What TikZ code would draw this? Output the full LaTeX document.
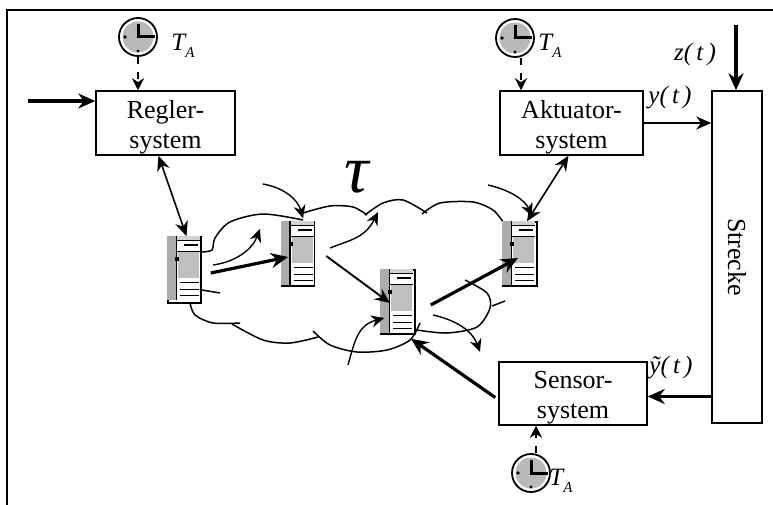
\documentclass[tikz,border=0pt]{standalone}
\usepackage{fontspec}
\setmainfont{Liberation Serif}
\usetikzlibrary{arrows.meta}

\tikzset{
  block/.style={draw, line width=1.5pt, fill=white, inner sep=0pt, align=center, font=\fontsize{26}{30}\selectfont},
  clock/.style={draw, circle, line width=1.8pt, fill=white, inner sep=0pt, minimum size=38pt},
  server/.style={draw, line width=1.5pt, fill=white, inner sep=0pt},
  label/.style={inner sep=0pt, font=\fontsize{25}{25}\selectfont\itshape},
  thinflow/.style={line width=1.4pt, -{Stealth[length=13pt,width=12pt]}},
  midflow/.style={line width=1.9pt, -{Stealth[length=15pt,width=13pt]}},
  thickflow/.style={line width=3.2pt, -{Stealth[length=17pt,width=15pt]}},
  bothflow/.style={line width=1.6pt, {Stealth[length=15pt,width=13pt]}-{Stealth[length=15pt,width=13pt]}},
  tick/.style={line width=2pt, dash pattern=on 7pt off 8pt, -{Stealth[length=12pt,width=12pt]}},
  cloudline/.style={line width=1.5pt}
}

\newcommand{\boxtext}[2]{\rule{0pt}{26pt}#1\\#2}
\newcommand{\subA}{\raisebox{-7pt}{\fontsize{15}{15}\selectfont A}}

% clock face on a named node
\newcommand{\clockface}[1]{
  \fill[gray!55] (#1) circle (15.5pt);
  \draw[line width=3pt] (#1) ++(0,-13) -- ++(0,13) -- ++(17,0);
  \fill ([xshift=-13]#1) circle (1.8pt);
  \fill ([yshift=-14]#1) circle (1.6pt);
}

% tower drawn inside a named node
\newcommand{\serverface}[1]{
  \begin{scope}[shift={(#1.north west)}]
    \fill[gray!65] (0,0) rectangle (9,64);
    \fill[gray!35] (9,0) rectangle (33,4);
    \fill[gray!50] (11,16) rectangle (32,42);
    \draw[line width=1.5pt] (9,0) -- (9,64);
    \draw[line width=1.2pt] (9,4) -- (33,4);
    \draw[line width=1.2pt] (9,15) -- (33,15);
    \draw[line width=1.6pt] (17,9) -- (31,9);
    \draw[line width=1.5pt] (13,46) -- (32,46);
    \draw[line width=1.5pt] (13,53) -- (32,53);
    \draw[line width=1.5pt] (13,59) -- (32,59);
    \fill (8,21) rectangle (12,25);
  \end{scope}
}

\begin{document}
\begin{tikzpicture}[x=1pt, y=-1pt]
  \useasboundingbox (0,0) rectangle (773,505);

  \draw[line width=1.3pt] (7,505) |- (773,10);

  % cloud
  \draw[cloudline] plot[smooth] coordinates {(201,252) (212,250) (215,238) (230,222) (263,214) (303,220)};
  \draw[cloudline] plot[smooth] coordinates {(303,213) (330,206) (353,207) (367,215)};
  \draw[cloudline] plot[smooth] coordinates {(365,215) (383,203) (403,200) (427,213)};
  \draw[cloudline] plot[smooth] coordinates {(422,214) (440,203) (473,202) (493,210) (503,222)};
  \draw[cloudline] plot[smooth] coordinates {(465,280) (487,293) (490,308) (477,327) (447,333) (417,330)};
  \draw[cloudline] plot[smooth] coordinates {(492,306) (505,301)};
  \draw[cloudline] plot[smooth] coordinates {(420,323) (410,340) (387,350) (357,352) (330,345) (313,331)};
  \draw[cloudline] plot[smooth] coordinates {(318,337) (290,343) (263,340) (232,324)};
  \draw[cloudline] plot[smooth] coordinates {(240,323) (213,323) (195,315) (190,303)};
  \draw[cloudline] plot[smooth] coordinates {(202,290) (220,293)};

  \node[label, font=\fontsize{68}{68}\selectfont\itshape] (tau) at (357,177) {τ};

  \node[block, minimum width=139pt, minimum height=64pt] (regler) at (165.5,123) {\boxtext{Regler-}{system}};
  \node[block, minimum width=143pt, minimum height=64pt] (aktuator) at (571.5,123) {\boxtext{Aktuator-}{system}};
  \node[block, minimum width=148pt, minimum height=63pt] (sensor) at (573,393.5) {\boxtext{Sensor-}{system}};
  \node[block, minimum width=50pt, minimum height=332pt] (strecke) at (737,257) {\rotatebox{-90}{Strecke}};

  \node[clock] (clockR) at (138,37) {};
  \node[clock] (clockA) at (515,38) {};
  \node[clock] (clockS) at (531,473) {};
  \clockface{clockR}
  \clockface{clockA}
  \clockface{clockS}

  \node[server, minimum width=33pt, minimum height=66pt] (serverA) at (184.5,270) {};
  \node[server, minimum width=33pt, minimum height=64pt] (serverB) at (298,254) {};
  \node[server, minimum width=34pt, minimum height=64pt] (serverC) at (398,302) {};
  \node[server, minimum width=34pt, minimum height=64pt] (serverD) at (520,254) {};
  \serverface{serverA}
  \serverface{serverB}
  \serverface{serverC}
  \serverface{serverD}

  \node[label] (labelR) at (183,46) {T\subA};
  \node[label] (labelA) at (550,46) {T\subA};
  \node[label] (labelS) at (561,481) {T\subA};
  \node[label] (labelz) at (695,54) {z(\,t\,)};
  \node[label] (labely) at (670,98) {y(\,t\,)};
  \node[label] (labelyt) at (671,368) {\~{y}(\,t\,)};

  \coordinate (input) at (28,101);
  \coordinate (disturb) at (736,25);
  \coordinate (freeA) at (213,265);
  \coordinate (freeAend) at (260,229);
  \coordinate (freeB) at (263,184);
  \coordinate (freeC) at (330,248);
  \coordinate (freeCend) at (378,212);
  \coordinate (freeD) at (348,365);
  \coordinate (freeE) at (433,315);
  \coordinate (freeEend) at (480,352);
  \coordinate (freeF) at (488,185);

  \draw[thickflow] (input) -- (input -| regler.west);
  \draw[thickflow] (disturb) -- (disturb |- strecke.north);
  \draw[midflow] (aktuator.east) -- (aktuator.east -| strecke.west);
  \draw[thickflow] ([yshift=-3]strecke.west |- sensor.east) -- ([yshift=-3]sensor.east);

  \draw[tick] (clockR) -- (clockR |- regler.north);
  \draw[tick] ([xshift=6]clockA.south) -- ([xshift=6]clockA.south |- aktuator.north);
  \draw[tick] ([xshift=5]clockS.north) -- ([xshift=5]clockS.north |- sensor.south);

  \draw[bothflow] ([xshift=-7]regler.south) -- ([xshift=2]serverA.north);
  \draw[bothflow] ([xshift=-3]aktuator.south) -- ([xshift=7]serverD.north);

  \draw[thickflow] ([xshift=9,yshift=-3]serverA.east) -- ([xshift=-10,yshift=-3]serverB.center);
  \draw[midflow] ([xshift=11,yshift=-2]serverB.east) -- ([xshift=-8,yshift=-1]serverC.center);
  \draw[thickflow] ([xshift=15,yshift=-3]serverC.east) -- ([xshift=-2,yshift=-4]serverD.center);
  \draw[thickflow] ([xshift=-3,yshift=-4]sensor.west) -- ([xshift=13,yshift=-4]serverC.south);

  \draw[thinflow] (freeA) .. controls (235,262) and (252,250) .. (freeAend);
  \draw[thinflow] (freeB) .. controls (285,188) and (298,200) .. ([xshift=5,yshift=3]serverB.north);
  \draw[thinflow] (freeC) .. controls (350,240) and (365,238) .. (freeCend);
  \draw[thinflow] (freeD) .. controls (355,340) and (358,325) .. ([xshift=4,yshift=-16]serverC.west);
  \draw[thinflow] (freeE) .. controls (455,320) and (472,330) .. (freeEend);
  \draw[thinflow] (freeF) .. controls (510,190) and (525,200) .. ([xshift=12,yshift=5]serverD.north);
\end{tikzpicture}
\end{document}
